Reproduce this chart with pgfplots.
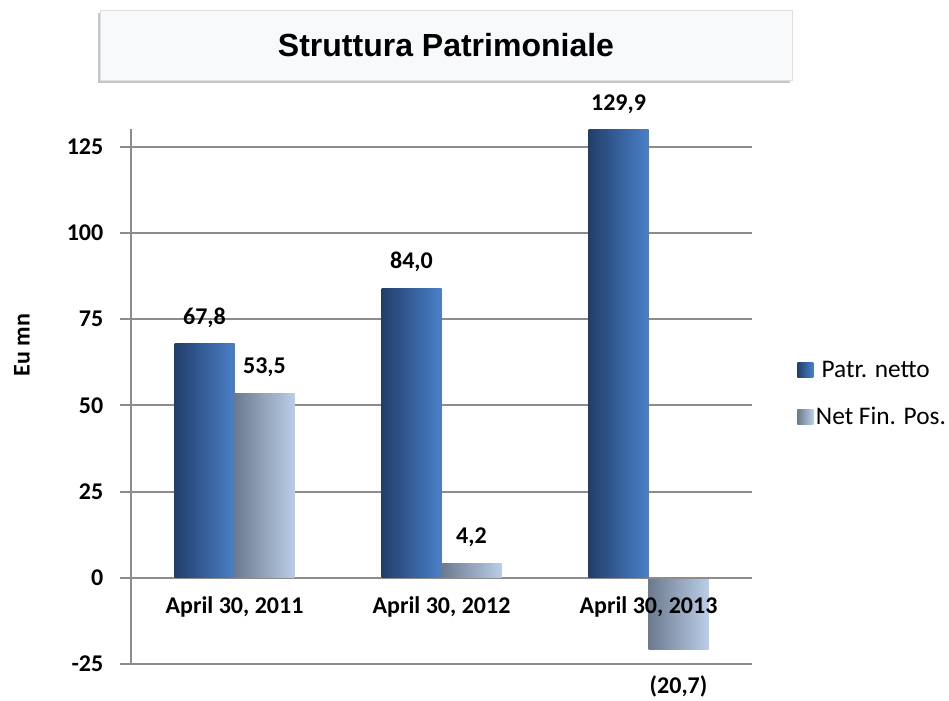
\documentclass[border=0pt]{standalone}
\usepackage{fontspec}
\setmainfont{Carlito}
\newfontfamily\titlefont{Liberation Sans}
\usepackage{pgfplots}
\pgfplotsset{compat=1.18}
\usetikzlibrary{shadows}
\definecolor{patrA}{RGB}{34,62,106}
\definecolor{patrB}{RGB}{74,128,200}
\definecolor{netA}{RGB}{108,122,142}
\definecolor{netB}{RGB}{186,206,232}
\definecolor{gridgray}{RGB}{140,140,140}
\definecolor{titlebg}{RGB}{248,249,251}

% 1 px of the reference = 0.75pt
\tikzset{
  patr/.style={draw=none, left color=patrA, right color=patrB, bar shift=-22.5pt},
  net/.style={draw=none, left color=netA, right color=netB, bar shift=22.5pt},
}

\begin{document}
\begin{tikzpicture}
% title box
\node[draw=gray!25, fill=titlebg, minimum width=519pt, minimum height=52.5pt,
      drop shadow={shadow xshift=-1.5pt, shadow yshift=-2pt, opacity=0.45, fill=gray}]
  at (334.5pt,491.25pt) {\titlefont\bfseries\fontsize{24}{28}\selectfont Struttura Patrimoniale};

\begin{axis}[
    set layers=standard,
    at={(98.25pt,27pt)}, anchor=south west,
    scale only axis,
    width=465.75pt, height=400.9pt,
    xmin=-0.5, xmax=2.5,
    ymin=-25, ymax=130,
    axis y line*=left, axis x line*=bottom,
    x axis line style={draw=none},
    y axis line style={gridgray, line width=1.5pt},
    ytick={-25,0,25,50,75,100,125},
    yticklabels={-25,0,25,50,75,100,125},
    xtick={0,1,2},
    xticklabels={{April 30, 2011},{April 30, 2012},{April 30, 2013}},
    tick align=outside,
    major tick length=8.25pt,
    xtick style={draw=none},
    ytick style={gridgray, line width=1.5pt},
    ymajorgrids,
    grid style={gridgray, line width=1.5pt},
    yticklabel style={font=\bfseries\fontsize{18}{20}\selectfont, xshift=-9pt},
    xticklabel style={font=\bfseries\fontsize{18}{20}\selectfont, yshift=62.5pt},
    ylabel={Eu mn},
    ylabel style={at={(axis description cs:-0.1755,0.597)}, anchor=center,
                  font=\bfseries\fontsize{18}{20}\selectfont},
    ybar, bar width=45pt,
    clip=false,
    nodes near coords,
    point meta=explicit symbolic,
    visualization depends on={y \as \rawy},
    every node near coord/.append style={font=\bfseries\fontsize{18}{20}\selectfont,
        inner ysep=12pt, yshift={(\rawy<0)*(-48pt)}},
    legend style={at={(axis description cs:1.066,0.577)}, anchor=north west,
        draw=none, fill=none, font=\fontsize{19}{21}\selectfont,
        row sep=17pt, legend cell align=left},
    legend image code/.code={\path[#1, draw=none] (0pt,-5.5pt) rectangle (12pt,5.5pt);},
]
\addplot[patr] coordinates {(0,67.8) [67,8]};
\addlegendentry{\ Patr. netto}
\addplot[net] coordinates {(0,53.5) [53,5]};
\addlegendentry{Net Fin. Pos.}
\addplot[patr, forget plot] coordinates {(1,84.0) [84,0]};
\addplot[patr, forget plot] coordinates {(2,129.9) [129,9]};
\addplot[net, forget plot] coordinates {(1,4.2) [4,2]};
% below the tick labels, so "April 30, 2013" shows over it
\addplot[net, forget plot, on layer=axis background] coordinates {(2,-20.7) [(20,7)]};
\end{axis}
\pgfresetboundingbox
\useasboundingbox (0,0) rectangle (711.75pt,525pt);
\end{tikzpicture}
\end{document}
